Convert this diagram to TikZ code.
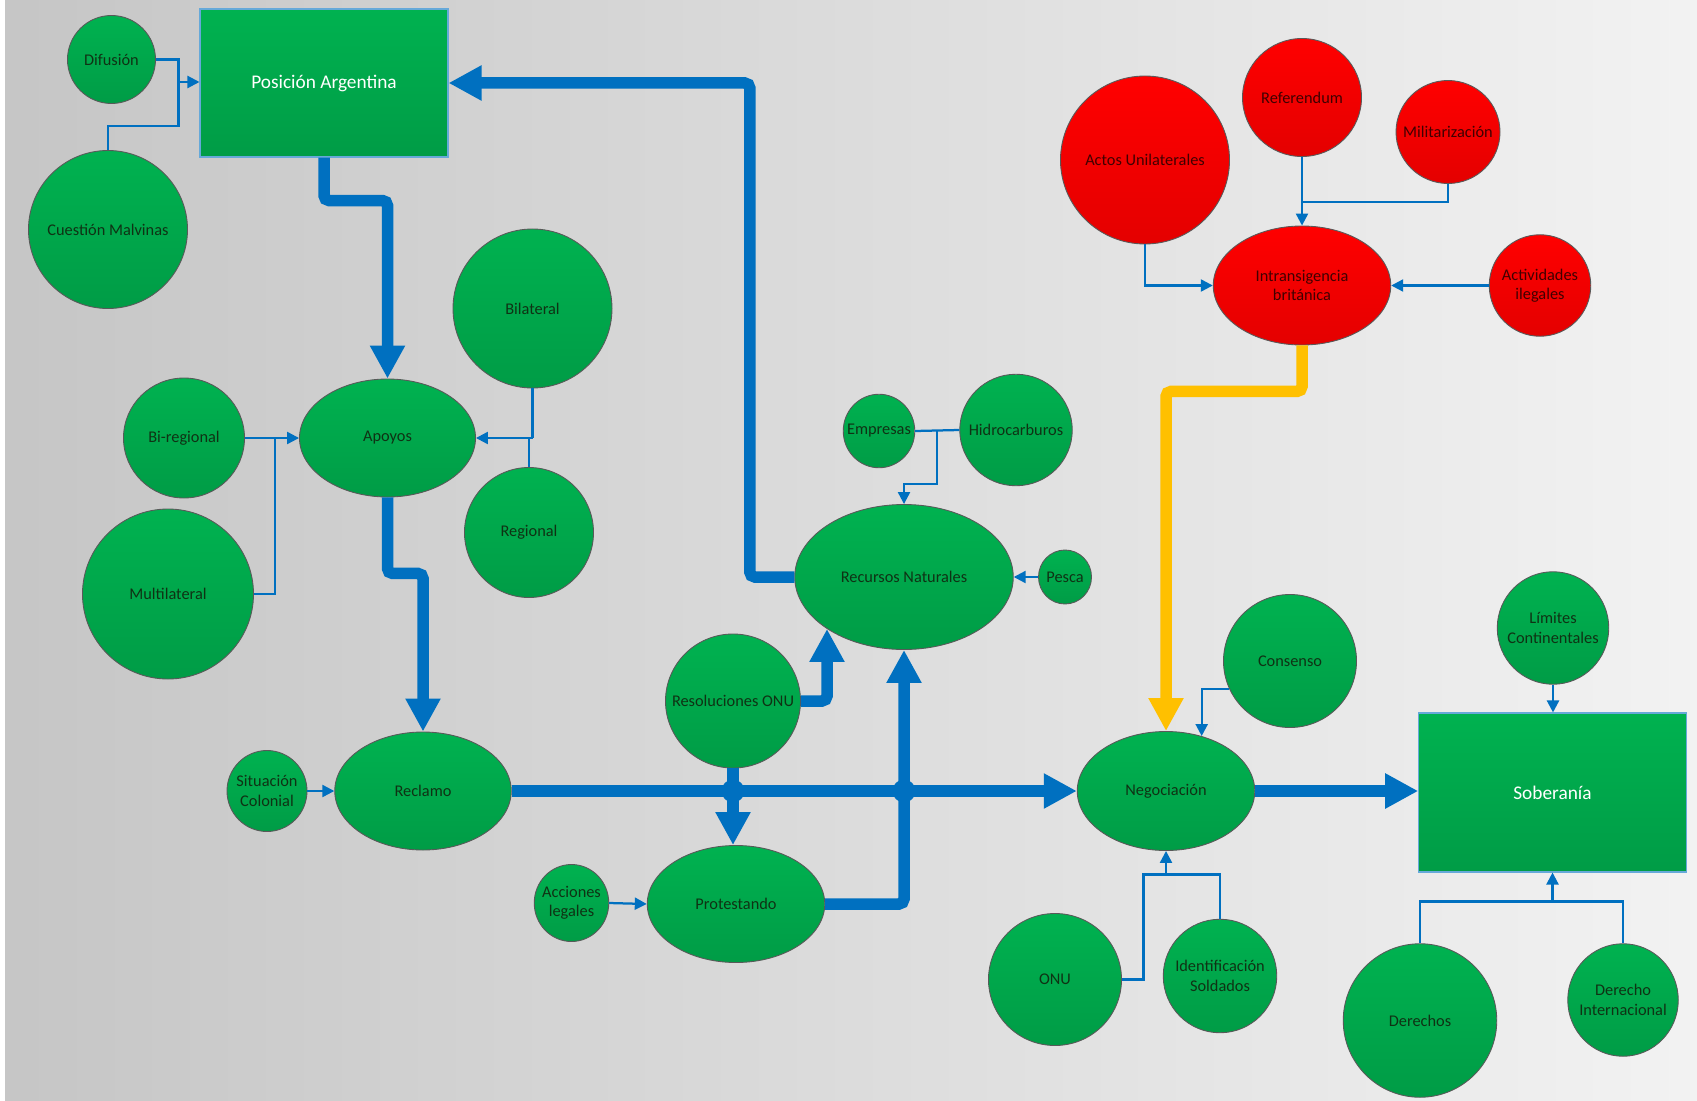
\documentclass[tikz,border=0pt]{standalone}
\usepackage{fontspec}
\setmainfont{Carlito}
\usetikzlibrary{shapes.geometric,arrows.meta,positioning}

\definecolor{verde}{RGB}{0,178,80}
\definecolor{verdeosc}{RGB}{0,156,70}
\definecolor{rojo}{RGB}{255,0,0}
\definecolor{rojoosc}{RGB}{228,0,0}
\definecolor{azul}{RGB}{0,112,192}
\definecolor{ambar}{RGB}{255,192,0}
\definecolor{texto}{RGB}{15,50,20}

\tikzset{
  sz/.style 2 args={minimum width=#1mm, minimum height=#2mm},
  bubble/.style={ellipse, draw=black!65, line width=0.5pt, top color=verde, bottom color=verdeosc,
    text=texto, font=\fontsize{9.3}{11}\selectfont, align=center, inner sep=-40mm},
  redbubble/.style={bubble, top color=rojo, bottom color=rojoosc, text=black!75!red},
  box/.style={rectangle, draw=azul!60, line width=0.6pt, top color=verde, bottom color=verdeosc,
    text=white, font=\fontsize{11}{13}\selectfont},
  link/.style={azul, line width=0.45mm, -{Triangle[length=2.4mm,width=2.4mm]}},
  tie/.style={azul, line width=0.45mm},
  flow/.style={azul, line width=2.3mm, rounded corners=1mm, -{Triangle[length=6.6mm,width=6.6mm]}},
}

\begin{document}
\begin{tikzpicture}[x=0.2mm, y=-0.2mm]
  \fill[white] (0,0) rectangle (1697,1100);
  \shade[left color=gray!45, right color=gray!10] (5,0) rectangle (1697,1100);

  \node[box, minimum width=49.6mm, minimum height=29.6mm] (pos) at (324,83) {Posición Argentina};
  \node[bubble, sz={17.6}{17.6}] (dif) at (111.5,59.5) {Difusión};
  \node[bubble, sz={31.8}{31.6}] (mal) at (108,229.5) {Cuestión Malvinas};
  \node[bubble, sz={31.8}{31.8}] (bil) at (532.5,308.5) {Bilateral};
  \node[bubble, sz={35.2}{23.6}] (apo) at (387.5,438) {Apoyos};
  \node[bubble, sz={24.2}{24}] (bir) at (184,438) {Bi-regional};
  \node[bubble, sz={25.8}{26}] (reg) at (529,532.5) {Regional};
  \node[bubble, sz={34.2}{34}] (mul) at (168,594) {Multilateral};
  \node[bubble, sz={14.3}{14.7}] (emp) at (879,431) {Empresas};
  \node[bubble, sz={22.5}{22.3}] (hid) at (1016,430) {Hidrocarburos};
  \node[bubble, sz={43.7}{29}] (rec) at (904,577) {Recursos Naturales};
  \node[bubble, sz={10.6}{10.8}] (pes) at (1065,577) {Pesca};
  \node[bubble, sz={27}{26.8}] (res) at (733,701) {Resoluciones ONU};
  \node[bubble, sz={16}{16.2}] (sit) at (267,791) {Situación\\Colonial};
  \node[bubble, sz={35.3}{23.6}] (rcl) at (423,791) {Reclamo};
  \node[bubble, sz={14.9}{15.4}] (acc) at (571.5,903) {Acciones\\legales};
  \node[bubble, sz={35.5}{23.4}] (pro) at (736,904) {Protestando};
  \node[redbubble, sz={33.8}{33.6}] (act) at (1145,160) {Actos Unilaterales};
  \node[redbubble, sz={23.8}{23.6}] (ref) at (1302,97.5) {Referendum};
  \node[redbubble, sz={20.8}{20.6}] (mil) at (1448,132) {Militarización};
  \node[redbubble, sz={35.5}{23.8}] (int) at (1302,285.5) {Intransigencia\\británica};
  \node[redbubble, sz={20.3}{20.3}] (ile) at (1540,285.5) {Actividades\\ilegales};
  \node[bubble, sz={26.6}{26.6}] (con) at (1290,661) {Consenso};
  \node[bubble, sz={35.5}{23.8}] (neg) at (1166,791) {Negociación};
  \node[bubble, sz={22.3}{22.5}] (lim) at (1553,628) {Límites\\Continentales};
  \node[box, minimum width=53.5mm, minimum height=31.8mm] (sob) at (1552.5,792.5) {Soberanía};
  \node[bubble, sz={26.6}{26.4}] (onu) at (1055,979.5) {ONU};
  \node[bubble, sz={22.7}{22.7}] (ide) at (1220,976) {Identificación\\Soldados};
  \node[bubble, sz={30.7}{30.7}] (der) at (1420,1020.5) {Derechos};
  \node[bubble, sz={22.1}{22.5}] (din) at (1623,1000) {Derecho\\Internacional};

  \coordinate (j1) at (178.5,82);
  \coordinate (j2) at (275,438);
  \coordinate (j3) at (bil.south |- apo.east);
  \coordinate (j4) at (937,431);
  \coordinate (j5) at (1302,202);
  \coordinate (j6) at (1166,874.5);
  \coordinate (j7) at (1552.5,901.5);

  \draw[tie] (dif.east) -| (j1);
  \draw[tie] (mal.north) -- ++(0,-23.8) -| (j1);
  \draw[link] (j1) -- (pos.west |- j1);
  \draw[link] (bir.east) -- (apo.west);
  \draw[tie] (mul.east) -| (j2);
  \draw[tie] (bil.south) -- (j3);
  \draw[tie] (reg.north) |- (j3);
  \draw[link] (j3) -- (apo.east);
  \draw[tie] (emp.east) -- (hid.west);
  \draw[link] (j4) -- ++(0,53) -| (rec.north);
  \draw[link] (pes.west) -- (rec.east);
  \draw[link] (sit.east) -- (rcl.west);
  \draw[link] (acc.east) -- (pro.west);
  \draw[link] (act.south) |- (int.west);
  \draw[link] (ref.south) -- (int.north);
  \draw[tie] (mil.south) |- (j5);
  \draw[link] (ile.west) -- (int.east);
  \draw[link] (con.205) -| (neg.57);
  \draw[tie] (onu.east) -- ++(21.5,0) |- (j6);
  \draw[tie] (ide.north) |- (j6);
  \draw[link] (j6) -- (neg.south);
  \draw[link] (lim.south) -- (lim.south |- sob.north);
  \draw[tie] (der.north) |- (j7) -| (din.north);
  \draw[link] (j7) -- (sob.south);

  \draw[flow] (pos.south) -- ++(0,43) -| (apo.north);
  \draw[flow] (apo.south) -- ++(0,76) -| (rcl.north);
  \draw[flow] (rcl.east) -- (neg.west);
  \draw[flow] (rec.west) -- ++(-44.5,0) |- (pos.east);
  \draw[flow] (res.east) -| (rec.214);
  \draw[flow] (res.south) -- (res.south |- pro.north);
  \draw[flow] (pro.east) -| (rec.south);
  \draw[flow, ambar] (int.south) -- ++(0,46) -| (neg.north);
  \draw[flow] (neg.east) -- (neg.east -| sob.west);
  \fill[azul] (res.south |- rcl.east) circle (2.3mm);
  \fill[azul] (rec.south |- rcl.east) circle (2.3mm);
\end{tikzpicture}
\end{document}
